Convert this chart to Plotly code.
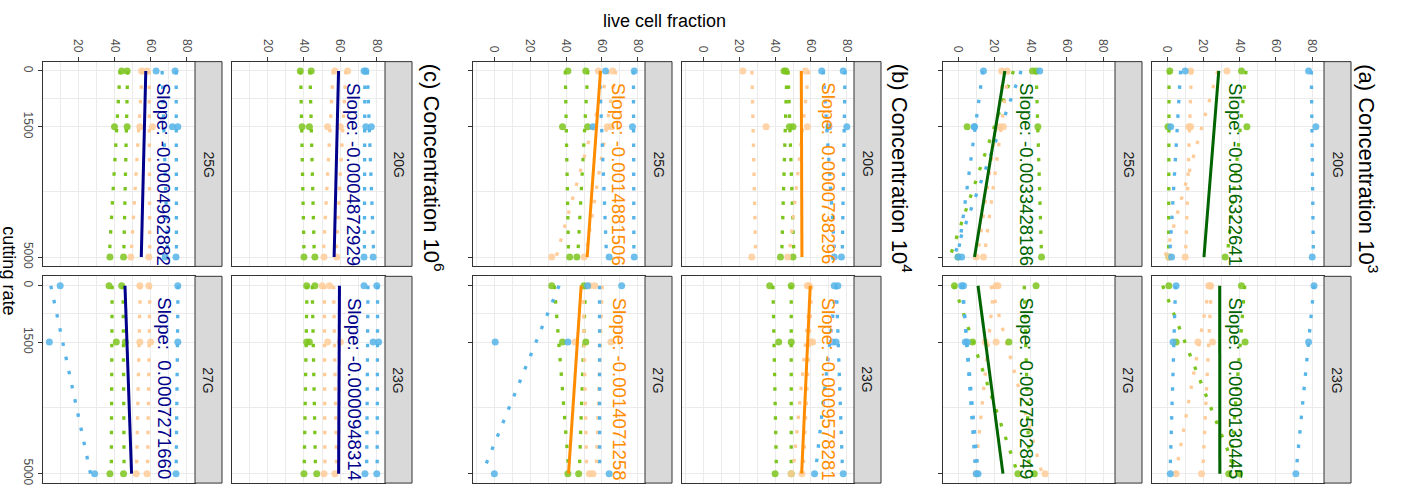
import numpy as np
import plotly.graph_objects as go

# ---------------------------------------------------------------------------
# Data: live cell fraction (%) per replicate at each cutting rate
# each colour group holds two replicates, values at CUTTING_RATE
# ---------------------------------------------------------------------------
CUTTING_RATE = [0, 1500, 5000]
GAUGES = ["20G", "23G", "25G", "27G"]
CONCENTRATIONS = ["a", "b", "c"]
TITLES = {
    "a": "(a) Concentration 10<sup>3</sup>",
    "b": "(b) Concentration 10<sup>4</sup>",
    "c": "(c) Concentration 10<sup>6</sup>",
}

# concentration 10^3
A_20G_GREEN = [[1.5, 0.5, 1.0], [41, 44, 32]]
A_20G_ORANGE = [[33, 12, 1], [13, 13, 10]]
A_20G_BLUE = [[78, 82, 80], [10, 2, 2.5]]
A_23G_GREEN = [[1, 5, 40], [41, 43, 34]]
A_23G_ORANGE = [[23, 25, 19], [24, 17, 5]]
A_23G_BLUE = [[81, 78, 71], [5, 3.3, 1.8]]
A_25G_GREEN = [[41, 5, 0], [43, 44, 46]]
A_25G_ORANGE = [[24, 23, 10], [27, 25, 14]]
A_25G_BLUE = [[14, 9, 0], [45, 9, 2]]
A_27G_GREEN = [[-2, 8, 33], [43, 28, 42]]
A_27G_ORANGE = [[21, 15, 10], [22, 21, 48]]
A_27G_BLUE = [[2, 5, 11], [3, 4, 10]]

# concentration 10^4
B_20G_GREEN = [[45, 48, 43], [46, 50, 50]]
B_20G_ORANGE = [[22, 35, 27], [57, 58, 47]]
B_20G_BLUE = [[78, 80, 77], [66, 70, 73]]
B_23G_GREEN = [[37, 42, 40], [49, 49, 49]]
B_23G_ORANGE = [[58, 60, 49], [59, 61, 55]]
B_23G_BLUE = [[75, 74, 78], [73, 72, 62]]
B_25G_GREEN = [[41, 38, 42], [51, 52, 46]]
B_25G_ORANGE = [[58, 63, 32], [66, 65, 50]]
B_25G_BLUE = [[78, 77, 78], [62, 55, 64]]
B_27G_GREEN = [[32, 38, 41], [50, 51, 47]]
B_27G_ORANGE = [[53, 45, 53], [56, 65, 55]]
B_27G_BLUE = [[71, 41, 64], [52, 0.5, 0]]

# concentration 10^6
C_20G_GREEN = [[38, 39, 40], [44, 43, 46]]
C_20G_ORANGE = [[57, 53, 51], [64, 60, 58]]
C_20G_BLUE = [[74, 77, 78], [73, 74, 73]]
C_23G_GREEN = [[41.5, 41.5, 40], [46, 43, 47]]
C_23G_ORANGE = [[50, 53, 51], [54, 60, 57]]
C_23G_BLUE = [[80, 81, 80], [73, 78, 73.5]]
C_25G_GREEN = [[44, 40, 37.5], [47, 47, 45]]
C_25G_ORANGE = [[55, 54, 49], [58, 61, 59]]
C_25G_BLUE = [[73.5, 75, 74], [63, 72, 68]]
C_27G_GREEN = [[37, 41, 37.5], [44, 46, 45]]
C_27G_ORANGE = [[54, 54, 52], [59, 60, 58]]
C_27G_BLUE = [[10, 4, 29], [75, 75, 74]]

# overall trend per gauge (order of GAUGES): slope and value at cutting rate 0
SLOPES_A = [-0.0016322641, 0.0000130445, -0.0033428186, 0.0027502849]
INTERCEPTS_A = [28.5, 29.0, 25.8, 11.0]
SLOPES_B = [0.0000738296, -0.0009578281, -0.0014881506, -0.0014071258]
INTERCEPTS_B = [54.6, 59.6, 59.2, 48.4]
SLOPES_C = [-0.0004872929, -0.0000948314, -0.0004962882, 0.0007271660]
INTERCEPTS_C = [59.0, 59.5, 57.3, 45.8]

series = {
    ("a", "20G"): (A_20G_GREEN, A_20G_ORANGE, A_20G_BLUE),
    ("a", "23G"): (A_23G_GREEN, A_23G_ORANGE, A_23G_BLUE),
    ("a", "25G"): (A_25G_GREEN, A_25G_ORANGE, A_25G_BLUE),
    ("a", "27G"): (A_27G_GREEN, A_27G_ORANGE, A_27G_BLUE),
    ("b", "20G"): (B_20G_GREEN, B_20G_ORANGE, B_20G_BLUE),
    ("b", "23G"): (B_23G_GREEN, B_23G_ORANGE, B_23G_BLUE),
    ("b", "25G"): (B_25G_GREEN, B_25G_ORANGE, B_25G_BLUE),
    ("b", "27G"): (B_27G_GREEN, B_27G_ORANGE, B_27G_BLUE),
    ("c", "20G"): (C_20G_GREEN, C_20G_ORANGE, C_20G_BLUE),
    ("c", "23G"): (C_23G_GREEN, C_23G_ORANGE, C_23G_BLUE),
    ("c", "25G"): (C_25G_GREEN, C_25G_ORANGE, C_25G_BLUE),
    ("c", "27G"): (C_27G_GREEN, C_27G_ORANGE, C_27G_BLUE),
}
trend = {
    "a": (SLOPES_A, INTERCEPTS_A),
    "b": (SLOPES_B, INTERCEPTS_B),
    "c": (SLOPES_C, INTERCEPTS_C),
}

# ---------------------------------------------------------------------------
# Styling and page geometry (pixels)
# ---------------------------------------------------------------------------
W, H = 1403, 497
FONT = "Liberation Sans, Arial, sans-serif"
GROUP_COLORS = ["#7CC51E", "#FFCC99", "#56B4E9"]
TREND_COLORS = {"a": "#006400", "b": "#FF8C00", "c": "#00008B"}
SLOPE_TEXT_X = {"a": 38.0, "b": 69.7, "c": 67.5}
X_RANGES = {"a": [-8.3, 86.5], "b": [-11.9, 84.0], "c": [0.5, 84.5]}
COLS = {
    "a": ((943, 1115), (1152, 1324)),
    "b": ((473, 645), (682, 854)),
    "c": ((43, 195), (232, 385)),
}
ROWS = ((62, 268), (278, 486))
CELL = {"25G": (0, 0), "27G": (0, 1), "20G": (1, 0), "23G": (1, 1)}
STRIP_W = 27
TITLE_X = {"a": 1368, "b": 902, "c": 434}
GRID = "#EBEBEB"
BORDER = "#333333"

fig = go.Figure()
layout = {}
shapes = []
annotations = []

rates = np.array(CUTTING_RATE, dtype=float)
line_rates = np.array([0.0, 5000.0])

idx = 0
for conc in CONCENTRATIONS:
    slopes, intercepts = trend[conc]
    for g_i, gauge in enumerate(GAUGES):
        idx += 1
        xa = "x" if idx == 1 else f"x{idx}"
        ya = "y" if idx == 1 else f"y{idx}"
        col, row = CELL[gauge]
        x0, x1 = COLS[conc][col]
        y0, y1 = ROWS[row]

        layout["xaxis" if idx == 1 else f"xaxis{idx}"] = dict(
            domain=[x0 / W, x1 / W], anchor=ya, range=X_RANGES[conc],
            side="top", tickvals=[0, 20, 40, 60, 80],
            showticklabels=(row == 0), ticks="outside" if row == 0 else "",
            ticklen=4, tickcolor=BORDER, tickangle=90,
            tickfont=dict(family=FONT, size=12, color="#4D4D4D"),
            showgrid=True, gridcolor=GRID, gridwidth=1, zeroline=False,
            minor=dict(tickvals=[-10, 10, 30, 50, 70, 90], showgrid=True,
                       gridcolor=GRID, gridwidth=0.6),
            showline=True, mirror=True, linecolor=BORDER, linewidth=1,
        )
        layout["yaxis" if idx == 1 else f"yaxis{idx}"] = dict(
            domain=[1 - y1 / H, 1 - y0 / H], anchor=xa, range=[5250, -250],
            tickvals=CUTTING_RATE,
            showticklabels=(col == 0 and conc == "c"),
            ticks="outside" if col == 0 else "", ticklen=4, tickcolor=BORDER,
            tickangle=90, tickfont=dict(family=FONT, size=12, color="#4D4D4D"),
            showgrid=True, gridcolor=GRID, gridwidth=1, zeroline=False,
            minor=dict(tickvals=[750, 3250], showgrid=True,
                       gridcolor=GRID, gridwidth=0.6),
            showline=True, mirror=True, linecolor=BORDER, linewidth=1,
        )

        # replicate fits (dotted) and observations
        for grp, color in zip(series[(conc, gauge)], GROUP_COLORS):
            for rep in grp:
                vals = np.array(rep, dtype=float)
                b, a = np.polyfit(rates, vals, 1)
                fig.add_trace(go.Scatter(
                    x=a + b * line_rates, y=line_rates, xaxis=xa, yaxis=ya,
                    mode="lines", line=dict(color=color, width=3.3, dash="3.5px,11px"),
                    hoverinfo="skip", showlegend=False))
        for grp, color in zip(series[(conc, gauge)], GROUP_COLORS):
            for rep in grp:
                fig.add_trace(go.Scatter(
                    x=rep, y=CUTTING_RATE, xaxis=xa, yaxis=ya, mode="markers",
                    marker=dict(color=color, size=7, opacity=0.85),
                    showlegend=False))

        # overall trend line
        s, c0 = slopes[g_i], intercepts[g_i]
        fig.add_trace(go.Scatter(
            x=c0 + s * line_rates, y=line_rates, xaxis=xa, yaxis=ya,
            mode="lines", line=dict(color=TREND_COLORS[conc], width=3),
            showlegend=False))
        annotations.append(dict(
            xref=xa, yref=ya, x=SLOPE_TEXT_X[conc], y=260,
            xanchor="center", yanchor="top", textangle=90, showarrow=False,
            text=f"Slope: {s: .10f}",
            font=dict(family=FONT, size=18.6, color=TREND_COLORS[conc])))

        # facet strip
        shapes.append(dict(
            type="rect", xref="paper", yref="paper",
            x0=x1 / W, x1=(x1 + STRIP_W) / W, y0=1 - y1 / H, y1=1 - y0 / H,
            fillcolor="#D9D9D9", line=dict(color=BORDER, width=1)))
        annotations.append(dict(
            xref="paper", yref="paper", x=(x1 + STRIP_W / 2) / W,
            y=1 - (y0 + y1) / 2 / H, xanchor="center", yanchor="middle",
            textangle=90, showarrow=False,
            text=gauge, font=dict(family=FONT, size=14, color="#1A1A1A")))

    annotations.append(dict(
        xref="paper", yref="paper", x=TITLE_X[conc] / W, y=1 - 62 / H,
        xanchor="center", yanchor="top", textangle=90, showarrow=False,
        text=TITLES[conc], font=dict(family=FONT, size=22, color="black")))

annotations.append(dict(
    xref="paper", yref="paper", x=664 / W, y=1 - 21 / H,
    xanchor="center", yanchor="middle", showarrow=False,
    text="live cell fraction", font=dict(family=FONT, size=18, color="black")))
annotations.append(dict(
    xref="paper", yref="paper", x=9 / W, y=1 - 272 / H,
    xanchor="center", yanchor="middle", textangle=90,
    showarrow=False, text="cutting rate",
    font=dict(family=FONT, size=18, color="black")))

fig.update_layout(
    width=W, height=H, margin=dict(l=0, r=0, t=0, b=0),
    paper_bgcolor="white", plot_bgcolor="white",
    shapes=shapes, annotations=annotations, showlegend=False,
    font=dict(family=FONT), **layout)

fig.write_html("out.html")
